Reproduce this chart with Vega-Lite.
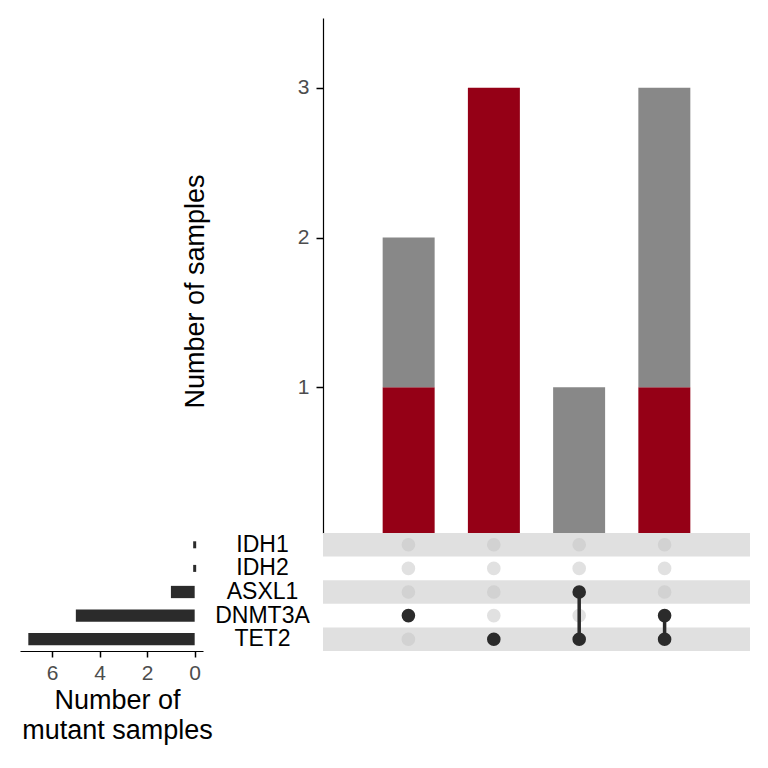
{
  "$schema": "https://vega.github.io/schema/vega-lite/v6.json",
  "background": "white",
  "padding": {"left": 20, "top": 18, "right": 5, "bottom": 5},
  "config": {
    "view": {"stroke": null},
    "font": "Liberation Sans",
    "axis": {"grid": false}
  },
  "datasets": {
    "bars": [
      {"set": "S1", "group": "A", "n": 1},
      {"set": "S1", "group": "B", "n": 1},
      {"set": "S2", "group": "A", "n": 3},
      {"set": "S3", "group": "B", "n": 1},
      {"set": "S4", "group": "A", "n": 1},
      {"set": "S4", "group": "B", "n": 2}
    ],
    "genes": [
      {"gene": "IDH1", "n": 0},
      {"gene": "IDH2", "n": 0},
      {"gene": "ASXL1", "n": 1},
      {"gene": "DNMT3A", "n": 5},
      {"gene": "TET2", "n": 7}
    ],
    "matrix": [
      {"set": "S1", "gene": "IDH1", "present": 0},
      {"set": "S1", "gene": "IDH2", "present": 0},
      {"set": "S1", "gene": "ASXL1", "present": 0},
      {"set": "S1", "gene": "DNMT3A", "present": 1},
      {"set": "S1", "gene": "TET2", "present": 0},
      {"set": "S2", "gene": "IDH1", "present": 0},
      {"set": "S2", "gene": "IDH2", "present": 0},
      {"set": "S2", "gene": "ASXL1", "present": 0},
      {"set": "S2", "gene": "DNMT3A", "present": 0},
      {"set": "S2", "gene": "TET2", "present": 1},
      {"set": "S3", "gene": "IDH1", "present": 0},
      {"set": "S3", "gene": "IDH2", "present": 0},
      {"set": "S3", "gene": "ASXL1", "present": 1},
      {"set": "S3", "gene": "DNMT3A", "present": 0},
      {"set": "S3", "gene": "TET2", "present": 1},
      {"set": "S4", "gene": "IDH1", "present": 0},
      {"set": "S4", "gene": "IDH2", "present": 0},
      {"set": "S4", "gene": "ASXL1", "present": 0},
      {"set": "S4", "gene": "DNMT3A", "present": 1},
      {"set": "S4", "gene": "TET2", "present": 1}
    ]
  },
  "columns": 2,
  "spacing": {"row": 0, "column": 120},
  "align": "each",
  "bounds": "flush",
  "concat": [
    {
      "width": 183,
      "height": 515,
      "data": {"values": [{}]},
      "mark": {"type": "text", "text": ""},
      "encoding": {}
    },
    {
      "width": 427,
      "height": 515,
      "data": {"name": "bars"},
      "mark": {"type": "bar"},
      "encoding": {
        "x": {
          "field": "set", "type": "nominal", "sort": ["S1", "S2", "S3", "S4"],
          "scale": {"paddingInner": 0.39, "paddingOuter": 0.7},
          "axis": null
        },
        "y": {
          "field": "n", "type": "quantitative", "stack": "zero",
          "scale": {"domain": [0.0267, 3.4667], "nice": false, "zero": false},
          "axis": {
            "values": [0, 1, 2, 3],
            "title": "Number of samples",
            "titleFontSize": 27,
            "titleFontWeight": "normal",
            "titleColor": "#000000",
            "titlePadding": 88,
            "titleY": 273,
            "labelFontSize": 21,
            "labelColor": "#4d4d4d",
            "labelPadding": 7,
            "tickSize": 7,
            "tickWidth": 1.5,
            "tickColor": "#000000",
            "domainColor": "#000000",
            "domainWidth": 1.2
          }
        },
        "color": {
          "field": "group", "type": "nominal",
          "scale": {"domain": ["A", "B"], "range": ["#950016", "#888888"]},
          "legend": null
        },
        "order": {"field": "group", "sort": "ascending"}
      }
    },
    {
      "width": 183,
      "height": 118,
      "data": {"name": "genes"},
      "encoding": {
        "y": {
          "field": "gene", "type": "nominal",
          "sort": ["IDH1", "IDH2", "ASXL1", "DNMT3A", "TET2"],
          "scale": {"paddingInner": 0.48, "paddingOuter": 0.24},
          "axis": {
            "orient": "right", "title": null, "domain": false, "ticks": false,
            "labelAlign": "center", "labelPadding": 59,
            "labelFontSize": 23, "labelColor": "#000000"
          }
        },
        "x": {
          "field": "n", "type": "quantitative",
          "scale": {"domain": [-0.35, 7.35], "nice": false, "reverse": true},
          "axis": {
            "values": [0, 2, 4, 6],
            "title": ["Number of", "mutant samples"],
            "titleFontSize": 27,
            "titleFontWeight": "normal",
            "titleColor": "#000000",
            "titleLineHeight": 30,
            "titlePadding": 4,
            "titleX": 97,
            "labelFontSize": 21,
            "labelColor": "#4d4d4d",
            "labelPadding": 5,
            "tickSize": 6,
            "tickWidth": 1.5,
            "tickColor": "#000000",
            "domainColor": "#000000",
            "domainWidth": 1.2
          }
        }
      },
      "layer": [
        {"mark": {"type": "bar", "color": "#2b2b2b"}},
        {
          "transform": [{"filter": "datum.n == 0"}],
          "mark": {"type": "tick", "color": "#2b2b2b", "opacity": 1, "thickness": 3, "size": 7}
        }
      ]
    },
    {
      "width": 427,
      "height": 118,
      "encoding": {
        "y": {
          "field": "gene", "type": "nominal",
          "sort": ["IDH1", "IDH2", "ASXL1", "DNMT3A", "TET2"],
          "scale": {"paddingInner": 0, "paddingOuter": 0},
          "axis": null
        }
      },
      "layer": [
        {
          "data": {"name": "genes"},
          "transform": [{"filter": {"field": "gene", "oneOf": ["IDH1", "ASXL1", "TET2"]}}],
          "mark": {"type": "bar", "color": "#e0e0e0"}
        },
        {
          "data": {"name": "matrix"},
          "transform": [{"filter": "datum.present == 0"}],
          "mark": {"type": "circle", "size": 185, "color": "#c4c4c4", "opacity": 0.5},
          "encoding": {
            "x": {
              "field": "set", "type": "nominal", "sort": ["S1", "S2", "S3", "S4"],
              "scale": {"type": "point", "padding": 1.005},
              "axis": null
            }
          }
        },
        {
          "data": {"name": "matrix"},
          "transform": [{"filter": "datum.present == 1"}],
          "mark": {"type": "line", "strokeWidth": 3.5, "color": "#2b2b2b"},
          "encoding": {
            "x": {
              "field": "set", "type": "nominal", "sort": ["S1", "S2", "S3", "S4"],
              "scale": {"type": "point", "padding": 1.005},
              "axis": null
            },
            "detail": {"field": "set"}
          }
        },
        {
          "data": {"name": "matrix"},
          "transform": [{"filter": "datum.present == 1"}],
          "mark": {"type": "circle", "size": 185, "color": "#2b2b2b", "opacity": 1},
          "encoding": {
            "x": {
              "field": "set", "type": "nominal", "sort": ["S1", "S2", "S3", "S4"],
              "scale": {"type": "point", "padding": 1.005},
              "axis": null
            }
          }
        }
      ]
    }
  ]
}
